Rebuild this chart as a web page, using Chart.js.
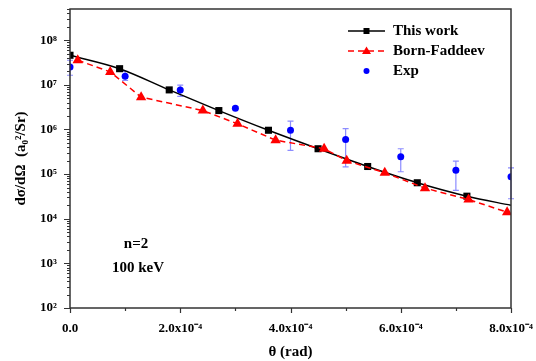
<!DOCTYPE html>
<html>
<head>
<meta charset="utf-8">
<script src="https://cdn.jsdelivr.net/npm/chart.js@4.4.1/dist/chart.umd.min.js"></script>
<style>
  html, body { margin: 0; padding: 0; background: #fff; }
  #wrap { width: 536px; height: 361px; }
</style>
</head>
<body>
<div id="wrap"><canvas id="chart"></canvas></div>
<script>
// This work (black squares + smooth line), last point only ends the line
const thetaWork = [0, 0.9e-4, 1.8e-4, 2.7e-4, 3.6e-4, 4.5e-4, 5.4e-4, 6.3e-4, 7.2e-4, 8.0e-4];
const sigmaWork = [4.6e7, 2.3e7, 7.7e6, 2.65e6, 9.6e5, 3.7e5, 1.48e5, 6.4e4, 3.2e4, 2.0e4];

// Born-Faddeev (red triangles, dashed)
const thetaBF = [0.14e-4, 0.73e-4, 1.29e-4, 2.41e-4, 3.04e-4, 3.73e-4, 4.61e-4, 5.02e-4, 5.71e-4, 6.44e-4, 7.23e-4, 7.93e-4];
const sigmaBF = [3.55e7, 1.95e7, 5.3e6, 2.65e6, 1.34e6, 5.75e5, 3.7e5, 2.0e5, 1.07e5, 4.85e4, 2.7e4, 1.4e4];

// Exp (blue circles) with error bars
const thetaExp = [0, 1e-4, 2e-4, 3e-4, 4e-4, 5e-4, 6e-4, 7e-4, 8e-4];
const sigmaExp = [2.5e7, 1.56e7, 7.7e6, 3.0e6, 9.6e5, 5.97e5, 2.45e5, 1.22e5, 8.7e4];
const expHigh  = [3.55e7, 2.0e7, 9.9e6, 3.2e6, 1.53e6, 1.04e6, 3.7e5, 1.95e5, 1.38e5];
const expLow   = [1.64e7, 1.25e7, 5.5e6, 2.8e6, 3.4e5, 1.45e5, 1.13e5, 4.3e4, 2.8e4];

const xTicks = [0, 1e-4, 2e-4, 3e-4, 4e-4, 5e-4, 6e-4, 7e-4, 8e-4];
const yMin = 1e2, yMax = 5e8;
const annotLines = ["n=2", "100 keV"];

const SERIF = "'Liberation Serif', 'Times New Roman', serif";
const SUP = { "0":"⁰","1":"¹","2":"²","3":"³","4":"⁴","5":"⁵","6":"⁶","7":"⁷","8":"⁸","9":"⁹","-":"⁻" };
const sup = s => String(s).split("").map(c => SUP[c] || c).join("");

const pts = (xs, ys) => xs.map((x, i) => ({ x: x, y: ys[i] }));

// frame, custom tick marks, error bars, legend and text
const decor = {
  id: "decor",
  beforeDatasetsDraw(chart) {
    const { ctx, scales: { x, y } } = chart;
    ctx.save();
    ctx.strokeStyle = "#8c8cff";
    ctx.lineWidth = 1.2;
    thetaExp.forEach((t, i) => {
      const px = x.getPixelForValue(t);
      const y1 = y.getPixelForValue(expHigh[i]);
      const y2 = y.getPixelForValue(expLow[i]);
      ctx.beginPath();
      ctx.moveTo(px, y1); ctx.lineTo(px, y2);
      ctx.moveTo(px - 3, y1); ctx.lineTo(px + 3, y1);
      ctx.moveTo(px - 3, y2); ctx.lineTo(px + 3, y2);
      ctx.stroke();
    });
    ctx.restore();
  },
  afterDraw(chart) {
    const { ctx, chartArea: a, scales: { x, y } } = chart;
    ctx.save();
    ctx.strokeStyle = "#333";
    ctx.lineWidth = 1.5;
    ctx.strokeRect(a.left, a.top, a.right - a.left, a.bottom - a.top);

    // x ticks
    ctx.lineWidth = 1.2;
    ctx.beginPath();
    xTicks.forEach((t, i) => {
      const px = Math.round(x.getPixelForValue(t)) + 0.5;
      ctx.moveTo(px, a.bottom);
      ctx.lineTo(px, a.bottom + (i % 2 === 0 ? 5 : 3));
    });
    // y ticks
    for (let e = 2; e <= 8; e++) {
      for (let m = 1; m <= 9; m++) {
        const v = m * Math.pow(10, e);
        if (v < yMin || v > yMax) continue;
        const py = Math.round(y.getPixelForValue(v)) + 0.5;
        ctx.moveTo(a.left, py);
        ctx.lineTo(a.left - (m === 1 ? 6 : 3), py);
      }
    }
    ctx.stroke();

    // legend
    const lx = 348, tx = 393;
    const rows = [31, 51, 71];
    ctx.font = "bold 15px " + SERIF;
    ctx.textBaseline = "middle";
    ctx.fillStyle = "#000";
    chart.data.datasets.forEach((ds, i) => {
      const ry = rows[i];
      ctx.save();
      if (ds.showLine !== false) {
        ctx.strokeStyle = ds.borderColor;
        ctx.lineWidth = 1.5;
        ctx.setLineDash(ds.borderDash || []);
        ctx.beginPath();
        ctx.moveTo(lx, ry); ctx.lineTo(lx + 37, ry);
        ctx.stroke();
      }
      ctx.restore();
      ctx.save();
      ctx.fillStyle = ds.pointBackgroundColor;
      const cx = lx + 18.5;
      if (ds.pointStyle === "rect") {
        ctx.fillRect(cx - 3, ry - 3, 6, 6);
      } else if (ds.pointStyle === "triangle") {
        ctx.beginPath();
        ctx.moveTo(cx, ry - 4.5); ctx.lineTo(cx + 4.5, ry + 3); ctx.lineTo(cx - 4.5, ry + 3);
        ctx.closePath(); ctx.fill();
      } else {
        ctx.beginPath(); ctx.arc(cx, ry, 3, 0, Math.PI * 2); ctx.fill();
      }
      ctx.restore();
      ctx.fillText(ds.label, tx, ry);
    });

    // annotation
    ctx.textAlign = "center";
    ctx.fillText(annotLines[0], 136, 244);
    ctx.fillText(annotLines[1], 138, 268);
    ctx.restore();
  }
};

new Chart(document.getElementById("chart"), {
  type: "scatter",
  data: {
    datasets: [
      {
        label: "This work",
        data: pts(thetaWork, sigmaWork),
        showLine: true,
        borderColor: "#000",
        borderWidth: 1.5,
        cubicInterpolationMode: "monotone",
        pointStyle: "rect",
        pointRadius: ctx => ctx.dataIndex === thetaWork.length - 1 ? 0 : 5,
        pointBackgroundColor: "#000",
        pointBorderWidth: 0,
        order: 2
      },
      {
        label: "Born-Faddeev",
        data: pts(thetaBF, sigmaBF),
        showLine: true,
        borderColor: "#ff0000",
        borderWidth: 1.5,
        borderDash: [6, 4],
        pointStyle: "triangle",
        pointRadius: 6,
        pointBackgroundColor: "#ff0000",
        pointBorderWidth: 0,
        order: 1
      },
      {
        label: "Exp",
        data: pts(thetaExp, sigmaExp),
        showLine: false,
        borderColor: "#0000ff",
        pointStyle: "circle",
        pointRadius: 3.5,
        pointBackgroundColor: "#0000ff",
        pointBorderWidth: 0,
        order: 0
      }
    ]
  },
  options: {
    responsive: true,
    maintainAspectRatio: false,
    animation: false,
    layout: { padding: { top: 9, right: 25, left: 0, bottom: 0 } },
    plugins: { legend: { display: false }, tooltip: { enabled: false } },
    scales: {
      x: {
        type: "linear",
        min: 0,
        max: 8e-4,
        afterBuildTicks: s => { s.ticks = xTicks.map(v => ({ value: v })); },
        afterFit: s => { s.height = 53; s.paddingLeft = 0; s.paddingRight = 0; },
        grid: { display: false },
        border: { display: false },
        ticks: {
          autoSkip: false,
          maxRotation: 0,
          padding: 5,
          color: "#000",
          font: { family: SERIF, size: 13, weight: "bold" },
          callback: (v, i) => {
            const n = Math.round(v * 1e4);
            if (n % 2 !== 0) return "";
            return n === 0 ? "0.0" : n.toFixed(1) + "x10" + sup("-4");
          }
        },
        title: {
          display: true,
          text: "θ (rad)",
          color: "#000",
          font: { family: SERIF, size: 15, weight: "bold" },
          padding: { top: 0, bottom: 0 }
        }
      },
      y: {
        type: "logarithmic",
        min: yMin,
        max: yMax,
        afterBuildTicks: s => {
          const t = [];
          for (let e = 2; e <= 8; e++) t.push({ value: Math.pow(10, e) });
          s.ticks = t;
        },
        afterFit: s => { s.width = 70; s.paddingTop = 0; s.paddingBottom = 0; },
        grid: { display: false },
        border: { display: false },
        ticks: {
          autoSkip: false,
          padding: 5,
          color: "#000",
          font: { family: SERIF, size: 13, weight: "bold" },
          callback: v => "10" + sup(Math.round(Math.log10(v)))
        },
        title: {
          display: true,
          text: "dσ/dΩ  (a₀²/Sr)",
          color: "#000",
          font: { family: SERIF, size: 15, weight: "bold" },
          padding: { top: 12, bottom: 0 }
        }
      }
    }
  },
  plugins: [decor]
});
</script>
</body>
</html>
